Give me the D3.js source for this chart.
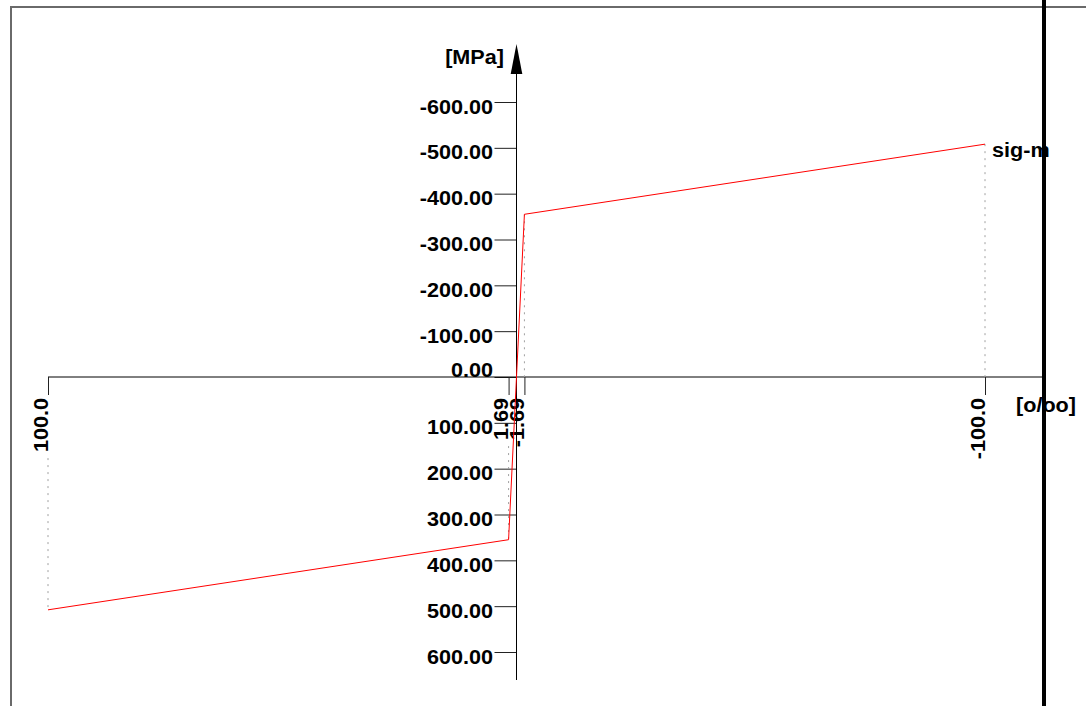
<!DOCTYPE html>
<html>
<head>
<meta charset="utf-8">
<script src="https://cdn.jsdelivr.net/npm/d3@7/dist/d3.min.js"></script>
<style>
  html, body { margin: 0; padding: 0; background: #fff; }
  svg { display: block; }
  text { font-family: "Liberation Sans", Arial, sans-serif; font-weight: bold; fill: #000; }
</style>
</head>
<body>
<svg id="chart" width="1086" height="706"></svg>
<script>
// Stress-strain diagram of a bilinear steel law (strain in per mille, stress in MPa)
const strain = [100, 1.69, -1.69, -100];
const stress = [508, 355, -355, -508];
const seriesName = "sig-m";

const yTickValues = [-600, -500, -400, -300, -200, -100, 0, 100, 200, 300, 400, 500, 600];
const yTickLabels = ["-600.00", "-500.00", "-400.00", "-300.00", "-200.00", "-100.00", "0.00",
                     "100.00", "200.00", "300.00", "400.00", "500.00", "600.00"];
const xTickValues = [100, 1.69, -1.69, -100];
const xTickLabels = ["100.0", "1.69", "-1.69", "-100.0"];
const yUnit = "[MPa]";
const xUnit = "[o/oo]";

const W = 1086, H = 706;
const FS = 21, SX = 1.03;   // label font size and horizontal stretch

const svg = d3.select("#chart");
svg.append("rect").attr("width", W).attr("height", H).attr("fill", "#fff");

// Positive strain to the left, negative stress upward
const x = d3.scaleLinear().domain([100, -100]).range([48, 985]);
const y = d3.scaleLinear().domain([-600, 600]).range([102, 652]);
const x0 = x(0), y0 = y(0);

// frame
svg.append("path")
  .attr("d", `M11,${H} L11,7 L${W},7`)
  .attr("fill", "none").attr("stroke", "#6a6a6a").attr("stroke-width", 2);

// ---- vertical (stress) axis ----
const yAxis = d3.axisLeft(y)
  .tickValues(yTickValues)
  .tickSize(22)
  .tickFormat((d, i) => yTickLabels[i]);

const gy = svg.append("g").attr("transform", `translate(${x0},0)`).call(yAxis);
gy.select(".domain").remove();
gy.selectAll(".tick line").attr("stroke", "#222");
gy.selectAll(".tick text")
  .attr("x", null).attr("dy", null)
  .attr("font-size", FS)
  .attr("text-anchor", "end")
  .attr("transform", d => `translate(-23.5,${d === 0 ? -1 : 11}) scale(${SX},1)`);

svg.append("line")
  .attr("x1", x0).attr("x2", x0).attr("y1", 73).attr("y2", 680)
  .attr("stroke", "#000").attr("stroke-width", 1);
svg.append("path")
  .attr("d", `M${x0},44 L${x0 - 5.8},74 L${x0 + 5.8},74 Z`)
  .attr("fill", "#000");

svg.append("text")
  .attr("font-size", FS)
  .attr("text-anchor", "end")
  .attr("transform", `translate(504,64) scale(${SX},1)`)
  .text(yUnit);

// ---- horizontal (strain) axis ----
svg.append("line")
  .attr("x1", x(100)).attr("x2", 1044).attr("y1", y0).attr("y2", y0)
  .attr("stroke", "#000").attr("stroke-width", 1);

const xAxis = d3.axisBottom(x)
  .tickValues(xTickValues)
  .tickSize(18)
  .tickFormat((d, i) => xTickLabels[i]);

const gx = svg.append("g").attr("transform", `translate(0,${y0})`).call(xAxis);
gx.select(".domain").remove();
gx.selectAll(".tick line").attr("stroke", "#222");
gx.selectAll(".tick text")
  .attr("x", null).attr("y", null).attr("dy", null)
  .attr("font-size", FS)
  .attr("text-anchor", "end")
  .attr("transform", `translate(-1,21) rotate(-90) scale(${SX},1)`);

svg.append("text")
  .attr("font-size", FS)
  .attr("transform", `translate(1016,412) scale(${SX},1)`)
  .text(xUnit);

// dotted guides from the data points to the strain axis
const guides = svg.append("g")
  .attr("stroke", "#a0a0a0").attr("stroke-width", 1)
  .attr("stroke-dasharray", "2,5");
strain.forEach((s, i) => {
  const v = stress[i];
  if (v < 0) {
    guides.append("line")
      .attr("x1", x(s)).attr("x2", x(s)).attr("y1", y(v)).attr("y2", y0);
  } else {
    // start below the rotated tick label
    const lbl = gx.selectAll(".tick text").filter(d => d === s).node();
    const len = lbl ? lbl.getComputedTextLength() * SX : 0;
    const yStart = y0 + 21 + len + 6;
    if (yStart < y(v)) {
      guides.append("line")
        .attr("x1", x(s)).attr("x2", x(s)).attr("y1", yStart).attr("y2", y(v));
    }
  }
});

// material curve
const line = d3.line().x((d, i) => x(strain[i])).y((d, i) => y(stress[i]));
svg.append("path")
  .datum(strain)
  .attr("d", line)
  .attr("fill", "none")
  .attr("stroke", "#ff0000")
  .attr("stroke-width", 1);

svg.append("text")
  .attr("font-size", FS)
  .attr("transform", `translate(992,157) scale(${SX},1)`)
  .text(seriesName);

// heavy vertical rule on the right
svg.append("rect")
  .attr("x", 1042).attr("y", 0).attr("width", 4).attr("height", H)
  .attr("fill", "#000");
</script>
</body>
</html>
